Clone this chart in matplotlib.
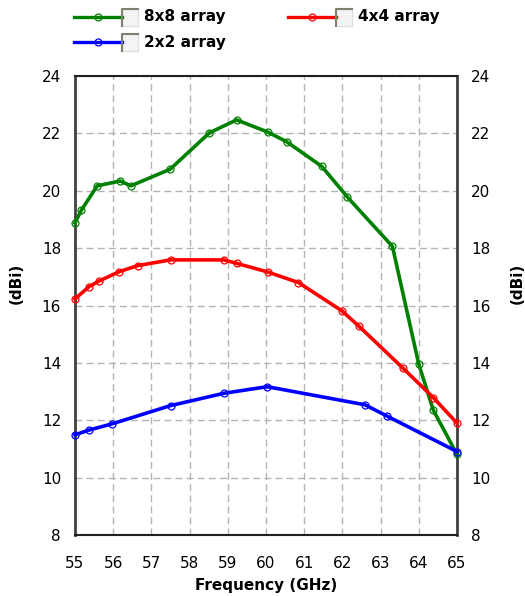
import matplotlib
matplotlib.use("Agg")
import matplotlib.pyplot as plt
from matplotlib.lines import Line2D
from matplotlib.patches import Rectangle

plt.rcParams['font.family'] = ['DejaVu Sans']

# ---- data ----
freq_8x8 = [55.0, 55.17, 55.58, 56.18, 56.46, 57.49, 58.52, 59.23, 60.04, 60.54, 61.46, 62.13, 63.31, 64.0, 64.38, 65.0]
gain_8x8 = [18.88, 19.33, 20.17, 20.34, 20.17, 20.75, 22.02, 22.47, 22.05, 21.71, 20.85, 19.78, 18.06, 13.95, 12.35, 10.81]

freq_4x4 = [55.0, 55.37, 55.64, 56.16, 56.64, 57.50, 58.90, 59.23, 60.04, 60.85, 61.98, 62.44, 63.59, 64.38, 65.0]
gain_4x4 = [16.23, 16.66, 16.86, 17.18, 17.39, 17.59, 17.59, 17.47, 17.17, 16.80, 15.82, 15.27, 13.81, 12.79, 11.90]

freq_2x2 = [55.0, 55.37, 55.96, 57.50, 58.90, 60.03, 62.59, 63.16, 65.0]
gain_2x2 = [11.49, 11.66, 11.87, 12.51, 12.94, 13.17, 12.54, 12.15, 10.91]

series_names = ["8x8 array", "4x4 array", "2x2 array"]
series_colors = ["#008000", "#ff0000", "#0000ff"]

x_ticks = list(range(55, 66))
y_ticks = list(range(8, 25, 2))

# ---- figure ----
W, H = 525, 596
fig = plt.figure(figsize=(W / 100, H / 100), dpi=100)
ax = fig.add_axes([75 / W, 1 - 535 / H, (457 - 75) / W, (535 - 76) / H])

data = [(freq_8x8, gain_8x8), (freq_4x4, gain_4x4), (freq_2x2, gain_2x2)]
for (xs, ys), c in zip(data, series_colors):
    ax.plot(xs, ys, color=c, lw=2.6, marker='o', ms=5, mfc='none', mec=c, mew=0.9, zorder=3,
            clip_on=False)

ax.set_xlim(55, 65)
ax.set_ylim(8, 24)
ax.set_xticks(x_ticks)
ax.set_yticks(y_ticks)
ax.grid(True, color='#b4b4b4', linestyle=(0, (5, 3)), lw=1.0)
ax.tick_params(axis='x', length=0, labelsize=11, pad=15)
ax.tick_params(axis='y', length=0, labelsize=11, labelright=True, pad=10)

for s in ['left', 'right']:
    ax.spines[s].set_color('#404040')
    ax.spines[s].set_linewidth(2.0)
for s in ['top', 'bottom']:
    ax.spines[s].set_color('#202020')
    ax.spines[s].set_linewidth(1.5)

ax.set_xlabel("Frequency (GHz)", fontsize=11, fontweight='bold', labelpad=5)
fig.text(16 / W, 1 - 283 / H, "(dBi)", rotation=90, fontsize=11, fontweight='bold',
         ha='center', va='center')
fig.text(517 / W, 1 - 283 / H, "(dBi)", rotation=90, fontsize=11, fontweight='bold',
         ha='center', va='center')

# ---- legend (custom, at top) ----
legend_pos = [(74, 17), (288, 17), (74, 42)]
for (lx, ly), name, c in zip(legend_pos, series_names, series_colors):
    fy = 1 - ly / H
    fig.add_artist(Line2D([lx / W, (lx + 48) / W], [fy, fy], color=c, lw=2.4,
                          transform=fig.transFigure))
    fig.add_artist(Line2D([(lx + 24) / W], [fy], color=c, marker='o', ms=5, mfc='none',
                          mec=c, mew=0.9, transform=fig.transFigure))
    bx, bw = lx + 48, 16
    fig.add_artist(Rectangle((bx / W, 1 - (ly + 9) / H), bw / W, 17 / H, transform=fig.transFigure,
                             facecolor='#f4f4f4', edgecolor='#e0e0e0', lw=1.0))
    fig.add_artist(Line2D([bx / W, bx / W, (bx + bw) / W], [1 - (ly + 9) / H, 1 - (ly - 8) / H, 1 - (ly - 8) / H],
                          color='#808070', lw=1.5, transform=fig.transFigure))
    fig.text((lx + 70) / W, fy, name, fontsize=11, fontweight='bold', ha='left', va='center')

fig.savefig("out.png", dpi=100)
